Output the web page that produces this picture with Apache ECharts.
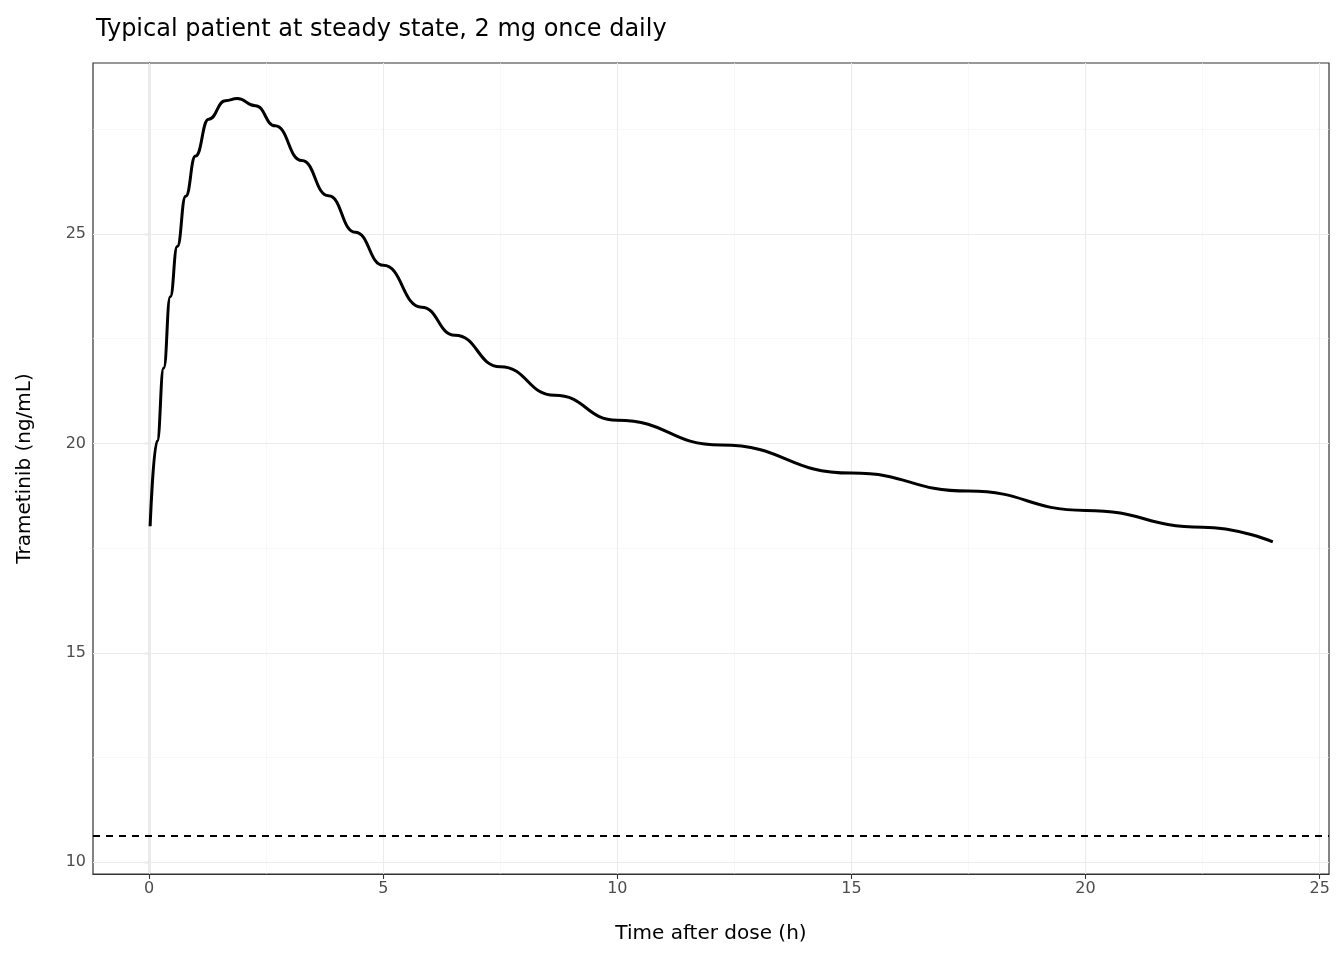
<!DOCTYPE html>
<html><head><meta charset="utf-8">
<script src="https://cdn.jsdelivr.net/npm/echarts@6/dist/echarts.min.js"></script>
<style>html,body{margin:0;padding:0;background:#fff}#c{width:1344px;height:960px}</style>
</head><body><div id="c"></div>
<script>
const timeH = [0.02,0.17,0.31,0.45,0.6,0.78,0.99,1.27,1.63,1.88,2.27,2.69,3.26,3.83,4.4,5.0,5.82,6.53,7.5,8.66,10,12.21,15,17.5,20,22.5,24];
const conc  = [18.02,20.05,21.8,23.5,24.7,25.9,26.86,27.74,28.18,28.23,28.06,27.58,26.75,25.91,25.04,24.25,23.25,22.58,21.83,21.15,20.55,19.96,19.29,18.86,18.4,18.0,17.65];
const refLine = 10.64;
const xTicks = [0,5,10,15,20,25];
const xMinor = [2.5,7.5,12.5,17.5,22.5];
const yTicks = [10,15,20,25];
const yMinor = [12.5,17.5,22.5,27.5];

const majorStyle = {color:'#ebebeb', width:1.1, type:'solid'};
const minorStyle = {color:'#f4f4f4', width:0.6, type:'solid'};
const gl = [];
xMinor.forEach(v=>gl.push({xAxis:v, lineStyle:minorStyle}));
yMinor.forEach(v=>gl.push({yAxis:v, lineStyle:minorStyle}));
xTicks.forEach(v=>gl.push({xAxis:v, lineStyle:majorStyle}));
yTicks.forEach(v=>gl.push({yAxis:v, lineStyle:majorStyle}));

const chart = echarts.init(document.getElementById('c'), null, {renderer:'canvas'});
chart.setOption({
  animation:false,
  title:{text:'Typical patient at steady state, 2 mg once daily', left:91, top:13,
    textStyle:{fontFamily:'DejaVu Sans', fontSize:24, fontWeight:'normal', color:'#000'}},
  grid:{left:93, right:15, top:63, bottom:86, show:true, borderColor:'#333333', borderWidth:1.2, backgroundColor:'transparent'},
  xAxis:{type:'value', min:-1.2, max:25.2,
    name:'Time after dose (h)', nameLocation:'middle', nameGap:50,
    nameTextStyle:{fontFamily:'DejaVu Sans', fontSize:20, color:'#000'},
    axisLine:{show:true, lineStyle:{color:'#333', width:1.2}}, splitLine:{show:false},
    axisTick:{show:true, customValues:xTicks, length:5, lineStyle:{color:'#333', width:1.1}},
    axisLabel:{customValues:xTicks, fontFamily:'DejaVu Sans', fontSize:16, color:'#4d4d4d', margin:7}},
  yAxis:{type:'value', min:9.72, max:29.08,
    name:'Trametinib (ng/mL)', nameLocation:'middle', nameGap:58,
    nameTextStyle:{fontFamily:'DejaVu Sans', fontSize:20, color:'#000'},
    axisLine:{show:true, lineStyle:{color:'#333', width:1.2}}, splitLine:{show:false},
    axisTick:{show:true, customValues:yTicks, length:5, lineStyle:{color:'#333', width:1.1}},
    axisLabel:{customValues:yTicks, fontFamily:'DejaVu Sans', fontSize:16, color:'#4d4d4d', margin:7}},
  series:[
    {type:'line', data:[], silent:true, zlevel:0, z:1,
     markLine:{silent:true, symbol:'none', label:{show:false}, data:gl, animation:false}},
    {type:'line', data:[], silent:true, zlevel:1, z:3,
     markLine:{silent:true, symbol:'none', label:{show:false}, animation:false,
       data:[{yAxis:refLine, lineStyle:{color:'#000', width:2, type:[7,6]}}]}},
    {type:'line', data:timeH.map((t,i)=>[t,conc[i]]), smooth:true, smoothMonotone:'x', showSymbol:false, zlevel:1, z:4,
     lineStyle:{color:'#000', width:3}}
  ]
});
</script></body></html>
